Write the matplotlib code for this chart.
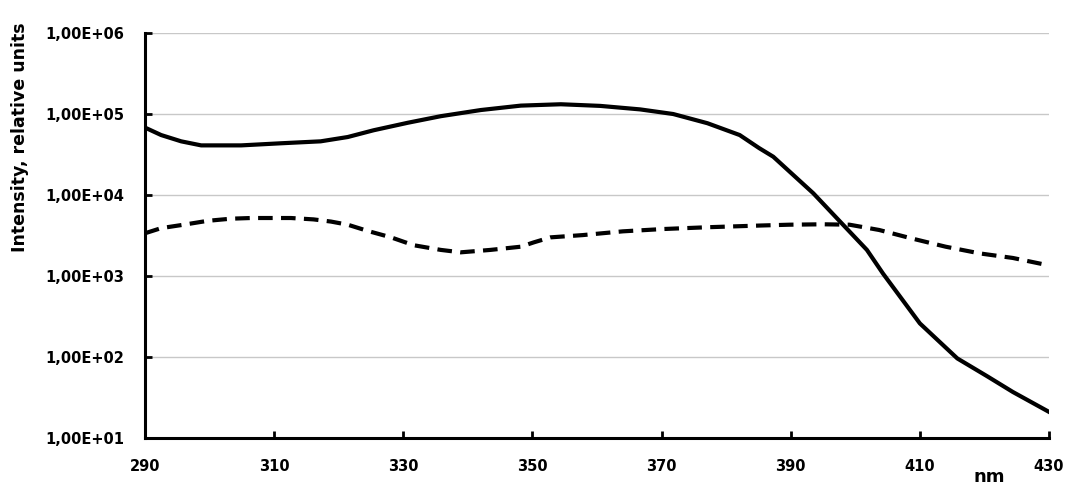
import numpy as np
import matplotlib.pyplot as plt
from matplotlib.ticker import FixedLocator, FuncFormatter

plt.rcParams['font.family'] = 'DejaVu Sans'
plt.rcParams['font.weight'] = 'bold'

# Solid curve
wl_solid = [290, 292.5, 295.6, 298.7, 304.9, 311.0, 317.2, 321.4, 325.4, 330.7, 335.8,
            342.0, 348.2, 354.4, 360.5, 366.7, 371.8, 377.1, 382.1, 385.1, 387.3, 393.5,
            398.1, 401.8, 404.3, 410.0, 415.8, 420.4, 424.4, 430]
int_solid = [6.8e4, 5.5e4, 4.6e4, 4.1e4, 4.1e4, 4.35e4, 4.6e4, 5.2e4, 6.3e4, 7.8e4, 9.4e4,
             1.12e5, 1.27e5, 1.32e5, 1.26e5, 1.14e5, 1.0e5, 7.7e4, 5.5e4, 3.8e4, 2.97e4,
             1.05e4, 4.3e3, 2.1e3, 1.07e3, 2.6e2, 96, 58, 37, 21]

# Dashed curve
wl_dash = [290, 292.5, 296.0, 299.7, 303.3, 306.4, 312.6, 316.1, 318.8, 321.4, 324.5,
           328.1, 331.6, 335.8, 338.9, 343.5, 348.2, 350.2, 352.8, 357.8, 364.0, 370.2,
           377.1, 385.3, 389.8, 395.0, 399.1, 403.7, 408.8, 414.0, 419.3, 424.4, 430]
int_dash = [3.37e3, 3.9e3, 4.3e3, 4.8e3, 5.1e3, 5.2e3, 5.2e3, 5.0e3, 4.7e3, 4.3e3, 3.6e3,
            3.0e3, 2.4e3, 2.1e3, 1.96e3, 2.1e3, 2.3e3, 2.6e3, 3.0e3, 3.2e3, 3.56e3, 3.8e3,
            4.0e3, 4.2e3, 4.3e3, 4.35e3, 4.3e3, 3.7e3, 2.9e3, 2.3e3, 1.9e3, 1.67e3, 1.35e3]

x_ticks = [290, 310, 330, 350, 370, 390, 410, 430]
y_ticks = [1e1, 1e2, 1e3, 1e4, 1e5, 1e6]

fig = plt.figure(figsize=(10.91, 4.93), dpi=100)
ax = fig.add_axes([0.1329, 0.1116, 0.8286, 0.8214])

ax.plot(wl_solid, int_solid, color="black", lw=3, solid_joinstyle="round")
ax.plot(wl_dash, int_dash, color="black", lw=3, linestyle=(0, (3.5, 2)))

ax.set_yscale("log")
ax.set_xlim(290, 430)
ax.set_ylim(1e1, 1e6)
ax.yaxis.set_major_locator(FixedLocator(y_ticks))
ax.yaxis.set_minor_locator(FixedLocator([]))
ax.yaxis.set_major_formatter(FuncFormatter(lambda v, p: ("%.2E" % v).replace(".", ",")))
ax.xaxis.set_major_locator(FixedLocator(x_ticks))

ax.grid(True, axis="y", color="#c8c8c8", lw=1)
ax.set_axisbelow(True)
for s in ["top", "right"]:
    ax.spines[s].set_visible(False)
for s in ["left", "bottom"]:
    ax.spines[s].set_linewidth(2.2)

ax.tick_params(axis="both", direction="in", length=5, width=2, labelsize=10.5, pad=15)

fig.text(20 / 1091, 1 - 137 / 493, "Intensity, relative units", rotation=90,
         ha="center", va="center", fontsize=12.5, fontweight="bold")
fig.text(989 / 1091, 1 - 477 / 493, "nm", ha="center", va="center", fontsize=13,
         fontweight="bold")

fig.savefig("out.png", dpi=100)
